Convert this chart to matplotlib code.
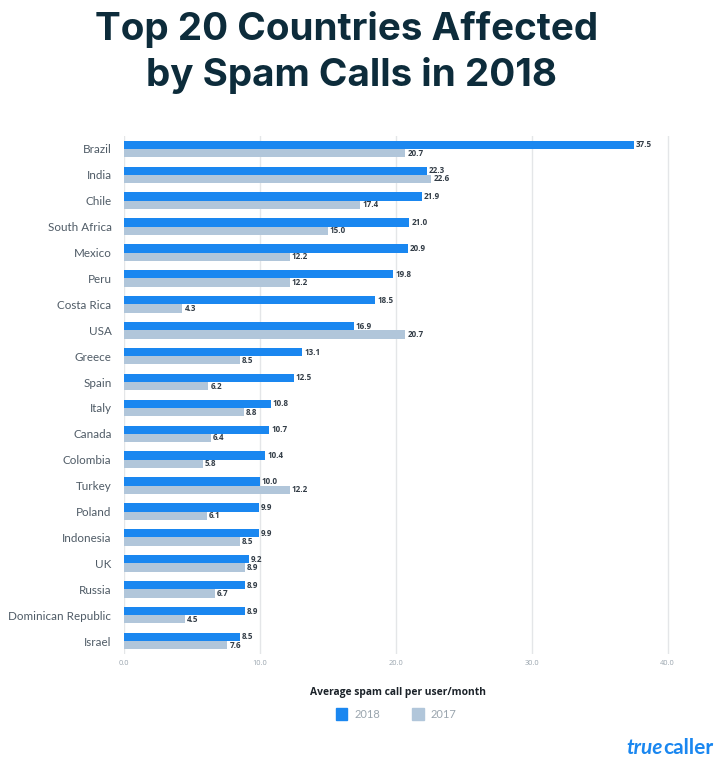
import matplotlib
matplotlib.use("Agg")
import matplotlib.pyplot as plt
from matplotlib.patches import Patch

countries = ["Brazil", "India", "Chile", "South Africa", "Mexico", "Peru", "Costa Rica", "USA",
             "Greece", "Spain", "Italy", "Canada", "Colombia", "Turkey", "Poland", "Indonesia",
             "UK", "Russia", "Dominican Republic", "Israel"]
calls_2018 = [37.5, 22.3, 21.9, 21.0, 20.9, 19.8, 18.5, 16.9, 13.1, 12.5,
              10.8, 10.7, 10.4, 10.0, 9.9, 9.9, 9.2, 8.9, 8.9, 8.5]
calls_2017 = [20.7, 22.6, 17.4, 15.0, 12.2, 12.2, 4.3, 20.7, 8.5, 6.2,
              8.8, 6.4, 5.8, 12.2, 6.1, 8.5, 8.9, 6.7, 4.5, 7.6]
x_ticks = [0, 10, 20, 30, 40]

BLUE = "#1a87f0"
GREY = "#b1c6da"
W, H = 720, 772

plt.rcParams["font.family"] = ["Open Sans", "DejaVu Sans"]

fig = plt.figure(figsize=(W / 100, H / 100), dpi=100)
# axes placed in pixels: x=0 at 124, x=40 at 667.5
left, right, top, bottom = 124, 681, 136, 654
ax = fig.add_axes([left / W, 1 - bottom / H, (right - left) / W, (bottom - top) / H])

ys = list(range(len(countries)))
bar_h = 0.32
ax.barh([y - bar_h / 2 for y in ys], calls_2018, height=bar_h, color=BLUE, zorder=3)
ax.barh([y + bar_h / 2 for y in ys], calls_2017, height=bar_h, color=GREY, zorder=3)

for y, a, b in zip(ys, calls_2018, calls_2017):
    ax.text(a + 0.15, y - bar_h / 2, f"{a:.1f}", va="center", ha="left", fontsize=5.8,
            fontweight="bold", color="#333d47", zorder=4)
    ax.text(b + 0.15, y + bar_h / 2, f"{b:.1f}", va="center", ha="left", fontsize=5.8,
            fontweight="bold", color="#333d47", zorder=4)

ax.set_xlim(0, (right - left) / 13.59)
ax.set_ylim(len(countries) - 0.5, -0.5)
ax.set_yticks(ys)
ax.set_yticklabels(countries, fontsize=8.35, color="#4f5b66", family=["Lato", "DejaVu Sans"])
ax.set_xticks(x_ticks)
ax.set_xticklabels([f"{t:.1f}" for t in x_ticks], fontsize=5.3, color="#9aa5ae")
ax.tick_params(axis="both", length=0)
ax.tick_params(axis="y", pad=9)
ax.tick_params(axis="x", pad=4)
ax.grid(axis="x", color="#e4e6e8", lw=1, zorder=0)
for s in ax.spines.values():
    s.set_visible(False)

# title
fig.text(346.5 / W, 1 - 29 / H, "Top 20 Countries Affected", ha="center", va="center",
         fontsize=27.8, fontweight="bold", color="#0d2c3b", family=["Inter", "DejaVu Sans"])
fig.text(351.5 / W, 1 - 75 / H, "by Spam Calls in 2018", ha="center", va="center",
         fontsize=27.8, fontweight="bold", color="#0d2c3b", family=["Inter", "DejaVu Sans"])

fig.text(397.5 / W, 1 - 692 / H, "Average spam call per user/month", ha="center", va="center",
         fontsize=7.4, fontweight="bold", color="#1b2229")

leg = fig.legend(handles=[Patch(color=BLUE, label="2018"), Patch(color=GREY, label="2017")],
                 loc="center", bbox_to_anchor=(396 / W, 1 - 714 / H), ncol=2, frameon=False,
                 handlelength=1.05, handleheight=1.35, handletextpad=0.6,
                 columnspacing=2.9, prop={"family": ["Lato", "DejaVu Sans"], "size": 8})
for t in leg.get_texts():
    t.set_color("#9aa5ae")

# logo: "caller" upright, "true" slanted just before it
caller = fig.text(713 / W, 1 - 748 / H, "caller", ha="right", va="center", fontsize=15,
                  fontweight="bold", color=BLUE, family=["Lato", "DejaVu Sans"])
box = caller.get_window_extent(fig.canvas.get_renderer())
fig.text(box.x0 / W, 1 - 748 / H, "true", ha="right", va="center", fontsize=15,
         fontweight="bold", fontstyle="italic", color=BLUE, family=["Lato", "DejaVu Sans"])

fig.savefig("out.png", dpi=100)
